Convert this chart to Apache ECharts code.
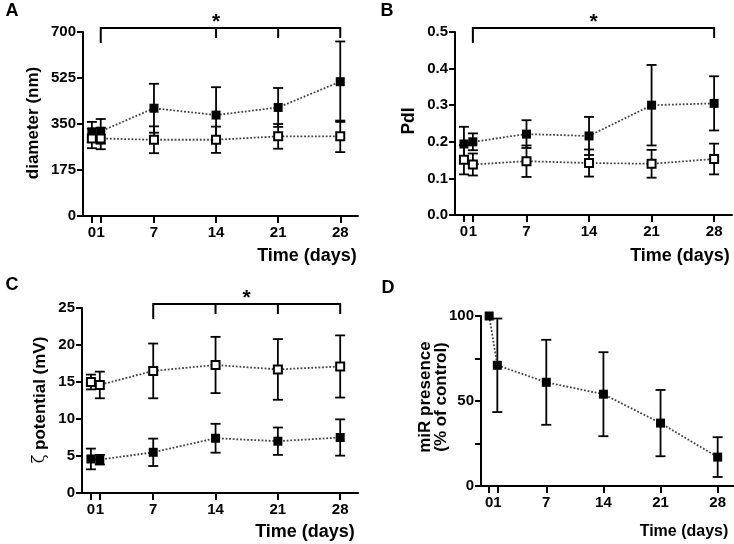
<!DOCTYPE html>
<html>
<head>
<meta charset="utf-8">
<script src="https://cdn.jsdelivr.net/npm/echarts@6/dist/echarts.min.js"></script>
<style>
  html, body { margin: 0; padding: 0; background: #fff; }
  #chart { width: 734px; height: 544px; }
</style>
</head>
<body>
<div id="chart"></div>
<script>
// time points (days) and tick labels shared by all panels
const days = [0, 1, 7, 14, 21, 28];
const xTicks = [0, 1, 7, 14, 21, 28];

// A: diameter (nm)
const diamFilled = [320, 322, 410, 384, 413, 511];
const diamFilledSd = [38, 47, 93, 106, 74, 153];
const diamOpen = [295, 295, 290, 290, 303, 303];
const diamOpenSd = [37, 41, 51, 50, 47, 60];

// B: PdI
const pdiFilled = [0.194, 0.200, 0.221, 0.216, 0.300, 0.305];
const pdiFilledSd = [0.047, 0.023, 0.038, 0.052, 0.110, 0.074];
const pdiOpen = [0.151, 0.138, 0.147, 0.142, 0.140, 0.153];
const pdiOpenSd = [0.040, 0.030, 0.043, 0.037, 0.038, 0.042];

// C: zeta potential (mV)
const zetaOpen = [15.0, 14.6, 16.5, 17.3, 16.7, 17.1];
const zetaOpenSd = [1.0, 1.8, 3.7, 3.8, 4.1, 4.2];
const zetaFilled = [4.6, 4.5, 5.5, 7.4, 7.0, 7.5];
const zetaFilledSd = [1.4, 0.65, 1.85, 1.95, 1.85, 2.45];

// D: miR presence (% of control)
const mirMean = [100, 71, 61, 54, 37, 17];
const mirSd = [0, 27.5, 25, 24.7, 19.5, 11.7];

// significance brackets (x positions of the bracket legs, star position)
const bracketA = [1, 14, 21, 28], starA = 14;
const bracketB = [1, 28], starB = 14.5;
const bracketC = [7, 14, 21, 28], starC = 17.5;

const FONT = 'Liberation Sans, Arial, sans-serif';

function pairs(m) { return days.map((d, i) => [d, m[i]]); }
function bars(m, s) { return days.map((d, i) => [d, m[i] - s[i], m[i] + s[i]]); }

function errorBarItem(params, api) {
  const x = api.value(0), lo = api.value(1), hi = api.value(2);
  if (hi - lo <= 0) return null;
  const top = api.coord([x, hi]);
  const bot = api.coord([x, lo]);
  const w = 5;
  const style = { stroke: '#000', lineWidth: 1.8, fill: null };
  return {
    type: 'group',
    children: [
      { type: 'line', shape: { x1: top[0], y1: top[1], x2: bot[0], y2: bot[1] }, style: style },
      { type: 'line', shape: { x1: top[0] - w, y1: top[1], x2: top[0] + w, y2: top[1] }, style: style },
      { type: 'line', shape: { x1: bot[0] - w, y1: bot[1], x2: bot[0] + w, y2: bot[1] }, style: style }
    ]
  };
}

function bracketSeries(idx, legs, star, yMax) {
  return {
    type: 'custom', xAxisIndex: idx, yAxisIndex: idx, clip: false, silent: true, z: 5,
    data: [[legs[0], yMax]],
    renderItem: function (params, api) {
      const pts = legs.map(x => api.coord([x, yMax]));
      const y0 = pts[0][1] - 4;
      const style = { stroke: '#000', lineWidth: 2, fill: null };
      const kids = [{ type: 'line', shape: { x1: pts[0][0], y1: y0, x2: pts[pts.length - 1][0], y2: y0 }, style: style }];
      pts.forEach((p, k) => {
        kids.push({ type: 'line', shape: { x1: p[0], y1: y0 - 1, x2: p[0], y2: y0 + (k === 0 ? 15 : 10) }, style: style });
      });
      const s = api.coord([star, yMax]);
      kids.push({
        type: 'text',
        style: { x: s[0], y: y0 - 6, text: '*', fill: '#000', font: 'bold 21px ' + FONT, align: 'center', verticalAlign: 'middle' }
      });
      return { type: 'group', children: kids };
    }
  };
}

function errSeries(idx, m, s) {
  return { type: 'custom', xAxisIndex: idx, yAxisIndex: idx, clip: false, z: 2, data: bars(m, s), renderItem: errorBarItem };
}

function lineSeries(idx, m, open) {
  return {
    type: 'line', xAxisIndex: idx, yAxisIndex: idx, z: 3,
    data: pairs(m),
    symbol: 'rect',
    symbolSize: open ? 8 : 9,
    showAllSymbol: true,
    lineStyle: { type: 'dotted', width: 1.8, color: '#444' },
    itemStyle: open ? { color: '#fff', borderColor: '#000', borderWidth: 2 } : { color: '#000' }
  };
}

const grids = [
  { left: 83, top: 32, width: 275, height: 184 },
  { left: 455, top: 32, width: 277, height: 183 },
  { left: 82, top: 308, width: 276, height: 185 },
  { left: 481, top: 316, width: 253, height: 170 }
];

const xAxes = grids.map((g, i) => ({
  gridIndex: i, type: 'value', min: -1, max: 30,
  splitLine: { show: false },
  axisLine: { onZero: false, lineStyle: { color: '#000', width: 2 } },
  axisTick: { customValues: xTicks, length: 7, lineStyle: { color: '#000', width: 2 } },
  axisLabel: { customValues: xTicks, color: '#000', fontWeight: 'bold', fontSize: 15, fontFamily: FONT, margin: 9 }
}));

function yAxis(i, max, interval, fmt, minor) {
  return {
    gridIndex: i, type: 'value', min: 0, max: max, interval: interval,
    splitLine: { show: false },
    axisLine: { show: true, onZero: false, lineStyle: { color: '#000', width: 2 } },
    axisTick: { show: true, length: 6, lineStyle: { color: '#000', width: 2 } },
    minorTick: minor ? { show: true, splitNumber: 2, length: 6, lineStyle: { color: '#000', width: 2 } } : { show: false },
    axisLabel: { color: '#000', fontWeight: 'bold', fontSize: 15, fontFamily: FONT, margin: 7, formatter: fmt }
  };
}

const yAxes = [
  yAxis(0, 700, 175),
  yAxis(1, 0.5, 0.1, v => v.toFixed(1)),
  yAxis(2, 25, 5),
  yAxis(3, 100, 50, null, true)
];

function label(text, x, y, size, rot, extra) {
  return Object.assign({
    type: 'text', x: x, y: y, rotation: rot || 0,
    style: { text: text, fill: '#000', font: 'bold ' + size + 'px ' + FONT, align: 'center', verticalAlign: 'middle' }
  }, extra || {});
}

const graphics = [
  label('A', 12, 11, 18),
  label('B', 387, 11, 18),
  label('C', 12, 285, 18),
  label('D', 388, 288, 18),
  label('diameter (nm)', 33, 123, 17, Math.PI / 2),
  label('PdI', 409, 121, 17.5, Math.PI / 2),
  {
    type: 'text', x: 40, y: 400, rotation: Math.PI / 2,
    style: {
      text: '{g|ζ} potential (mV)', fill: '#000', font: 'bold 17px ' + FONT,
      align: 'center', verticalAlign: 'middle',
      rich: { g: { fontFamily: 'DejaVu Serif', fontWeight: 'normal', fontSize: 16, fill: '#000' } }
    }
  },
  label('miR presence', 425, 397, 17, Math.PI / 2),
  label('(% of control)', 441, 397, 17, Math.PI / 2),
  label('Time (days)', 307, 256, 18),
  label('Time (days)', 680, 256, 18),
  label('Time (days)', 305, 532, 18),
  label('Time (days)', 684, 532, 16)
];

const option = {
  animation: false,
  backgroundColor: '#fff',
  grid: grids,
  xAxis: xAxes,
  yAxis: yAxes,
  graphic: graphics,
  series: [
    errSeries(0, diamFilled, diamFilledSd),
    errSeries(0, diamOpen, diamOpenSd),
    lineSeries(0, diamFilled, false),
    lineSeries(0, diamOpen, true),
    bracketSeries(0, bracketA, starA, 700),

    errSeries(1, pdiFilled, pdiFilledSd),
    errSeries(1, pdiOpen, pdiOpenSd),
    lineSeries(1, pdiFilled, false),
    lineSeries(1, pdiOpen, true),
    bracketSeries(1, bracketB, starB, 0.5),

    errSeries(2, zetaFilled, zetaFilledSd),
    errSeries(2, zetaOpen, zetaOpenSd),
    lineSeries(2, zetaFilled, false),
    lineSeries(2, zetaOpen, true),
    bracketSeries(2, bracketC, starC, 25),

    errSeries(3, mirMean, mirSd),
    lineSeries(3, mirMean, false)
  ]
};

const chart = echarts.init(document.getElementById('chart'), null, { renderer: 'canvas' });
chart.setOption(option);
window.addEventListener('resize', () => chart.resize());
</script>
</body>
</html>
